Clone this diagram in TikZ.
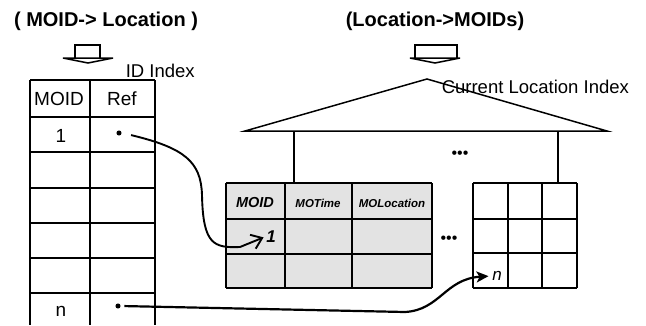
\documentclass[tikz,border=0pt]{standalone}
\usepackage{fontspec}
\setmainfont{Liberation Sans}
\usetikzlibrary{arrows.meta, positioning, calc}

\begin{document}
\begin{tikzpicture}[x=1pt, y=-1pt, line width=1.5pt,
    every node/.style={font=\fontsize{18.5}{20}\selectfont, inner sep=1pt},
    title/.style={font=\fontsize{20}{22}\selectfont\bfseries},
    hand/.style={font=\fontsize{11.5}{13}\selectfont\itshape\bfseries},
    refdot/.style={circle, fill, inner sep=1.8pt},
    dots/.style={font=\fontsize{16}{16}\selectfont}]
    \useasboundingbox (0,0) rectangle (646,325);
        % Titles and flat arrows
        \node[title] (tleft) at (106,21) {( MOID-> Location )};
        \node[title] (tright) at (435,21) {(Location->MOIDs)};
        \draw (75,58) -- (75,45) -- (100,45) -- (100,58);
        \draw[fill=white] (63,58) -- (113,58) -- (88,63) -- cycle;
        \draw (415,58) -- (415,45) -- (457,45) -- (457,58);
        \draw[fill=white] (410,58) -- (460,58) -- (435,63) -- cycle;
        % ID Index table
        \node[anchor=west] (idlabel) at (124,71) {ID Index};
        \foreach \x in {30,90,155}
            \draw (\x,80) -- (\x,325);
        \foreach \y in {80,117,152,188,223,258,293}
            \draw (30,\y) -- (155,\y);
        \node[font=\fontsize{19}{21}\selectfont] (hmoid) at (59,99) {MOID};
        \node[font=\fontsize{19}{21}\selectfont] (href) at (122,99) {Ref};
        \node[font=\fontsize{19}{21}\selectfont] (id1) at (61,136) {1};
        \node[font=\fontsize{19}{21}\selectfont] (idn) at (61,311) {n};
        \node[refdot] (ref1) at (119,133) {};
        \node[refdot] (refn) at (118,306) {};
        % Current Location Index tree
        \draw (245,131) -- (427,79) -- (607,131) -- cycle;
        \node[anchor=west] (cllabel) at (440,87) {Current Location Index};
        \node[dots] (topdots) at (460,155) {\textbullet\textbullet\textbullet};
        \draw (294,131) -- (294,183);
        \draw (558,131) -- (558,183);
        % Leaf with MO records
        \fill[gray!22] (226,183) rectangle (432,288);
        \foreach \x in {226,285,352,432}
            \draw (\x,183) -- (\x,288);
        \foreach \y in {183,219,254,288}
            \draw (226,\y) -- (432,\y);
        \node[hand, font=\fontsize{14.5}{16}\selectfont\itshape\bfseries] (lmoid) at (255,203) {MOID};
        \node[hand] (lmotime) at (318,203) {MOTime};
        \node[hand] (lmoloc) at (392,203) {MOLocation};
        \node[hand, font=\fontsize{17}{19}\selectfont\itshape\bfseries] (mo1) at (271,237) {1};
        \node[dots] (middots) at (449,240) {\textbullet\textbullet\textbullet};
        % Other leaf
        \foreach \x in {473,508,542,577}
            \draw (\x,183) -- (\x,288);
        \foreach \y in {183,219,253,288}
            \draw (473,\y) -- (577,\y);
        \node[hand, font=\fontsize{17}{19}\selectfont\itshape] (gridn) at (497,276) {n};
        % References
        \draw[-{Straight Barb[length=10pt, width=15pt]}, line width=1.9pt, shorten <=9pt, shorten >=1pt]
            (ref1.east) .. controls (185,148) and (201,162) .. (202,195)
            .. controls (203,245) and (214,248) .. (240,247) -- (mo1.west);
        \draw[-{Stealth[length=12pt, width=11pt, inset=3pt]}, line width=2.2pt, shorten <=3pt, shorten >=2pt]
            (refn.east) -- (405,312) .. controls (440,310) and (445,279) .. (gridn.west);
    \end{tikzpicture}
\end{document}
